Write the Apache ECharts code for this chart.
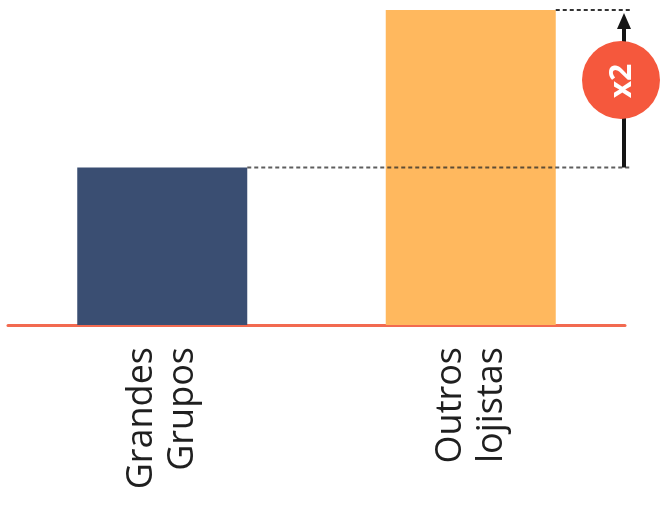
<!DOCTYPE html>
<html>
<head>
<meta charset="utf-8">
<script src="https://cdn.jsdelivr.net/npm/echarts@6/dist/echarts.min.js"></script>
<style>html,body{margin:0;padding:0;background:#fff}#c{width:664px;height:506px}</style>
</head>
<body>
<div id="c"></div>
<script>
const categories = ['Grandes\nGrupos', 'Outros\nlojistas'];
const values = [1, 2];
const barColors = ['#3a4e72', '#ffb85e'];
const ratioLabel = 'x2';

const chart = echarts.init(document.getElementById('c'), null, {renderer: 'canvas'});
const BAR_W = 170;
chart.setOption({
  animation: false,
  backgroundColor: '#ffffff',
  grid: {left: 8, right: 39, top: 10, bottom: 181},
  xAxis: {
    type: 'category',
    data: categories,
    axisLine: {lineStyle: {color: '#f26a50', width: 3}},
    axisTick: {show: false},
    axisLabel: {rotate: 90, fontSize: 36, color: '#1f1f1f', lineHeight: 41, margin: 22, fontFamily: 'Open Sans'}
  },
  yAxis: {type: 'value', min: 0, max: 2, show: false, splitLine: {show: false}},
  series: [
    {
      type: 'bar',
      barWidth: BAR_W,
      data: values.map((v, i) => ({value: v, itemStyle: {color: barColors[i]}}))
    },
    {
      type: 'custom',
      clip: false,
      z: 5,
      data: [[0, values[0]]],
      encode: {x: 0, y: 1},
      renderItem: function (params, api) {
        const pLow = api.coord([0, values[0]]);
        const pHigh = api.coord([1, values[1]]);
        const band = api.size([1, 0])[0];
        const ax = pHigh[0] + band / 2 - 1;
        const dash = {stroke: '#333', lineWidth: 2, lineDash: [4, 3]};
        return {
          type: 'group',
          children: [
            {type: 'line', shape: {x1: pLow[0] + BAR_W / 2, y1: pLow[1], x2: ax + 8, y2: pLow[1]}, style: Object.assign({}, dash, {stroke: 'rgba(40,40,40,0.75)'})},
            {type: 'line', shape: {x1: pHigh[0] + BAR_W / 2, y1: pHigh[1], x2: ax + 8, y2: pHigh[1]}, style: dash},
            {type: 'line', shape: {x1: ax, y1: pLow[1], x2: ax, y2: pHigh[1] + 16}, style: {stroke: '#151515', lineWidth: 4}},
            {type: 'polygon', shape: {points: [[ax, pHigh[1] + 3], [ax - 7, pHigh[1] + 19], [ax + 7, pHigh[1] + 19]]}, style: {fill: '#151515'}},
            {type: 'circle', shape: {cx: ax - 3, cy: pHigh[1] + 70, r: 39}, style: {fill: '#f5583d'}},
            {type: 'text', x: ax - 2, y: pHigh[1] + 71, rotation: Math.PI / 2,
              style: {text: ratioLabel, fill: '#ffffff', fontSize: 30, fontWeight: 'bold', fontFamily: 'Open Sans', align: 'center', verticalAlign: 'middle'}}
          ]
        };
      }
    }
  ]
});
</script>
</body>
</html>
